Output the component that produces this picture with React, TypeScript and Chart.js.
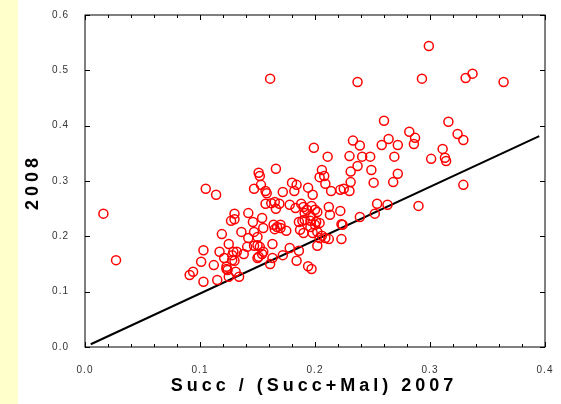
import React, { useEffect, useRef } from 'react';
import { Chart, registerables } from 'chart.js';

Chart.register(...registerables);

// Succ / (Succ+Mal) in 2007 (x) and 2008 (y)
const succ2007 = [
  0.016, 0.027, 0.161, 0.199, 0.166, 0.151, 0.152, 0.105, 0.114, 0.299,
  0.237, 0.293, 0.331, 0.337, 0.364, 0.260, 0.316, 0.282, 0.287, 0.324,
  0.329, 0.233, 0.264, 0.239, 0.258, 0.272, 0.286, 0.311, 0.211, 0.230,
  0.241, 0.248, 0.269, 0.301, 0.313, 0.314, 0.237, 0.206, 0.249, 0.231,
  0.272, 0.208, 0.204, 0.231, 0.251, 0.268, 0.329, 0.147, 0.153, 0.157,
  0.158, 0.172, 0.180, 0.184, 0.182, 0.194, 0.198, 0.209, 0.214, 0.222,
  0.225, 0.230, 0.157, 0.162, 0.165, 0.169, 0.166, 0.178, 0.183, 0.188,
  0.190, 0.193, 0.197, 0.200, 0.202, 0.212, 0.222, 0.254, 0.263, 0.290,
  0.142, 0.130, 0.130, 0.127, 0.146, 0.154, 0.155, 0.147, 0.136, 0.119,
  0.142, 0.125, 0.164, 0.167, 0.170, 0.170, 0.175, 0.187, 0.190, 0.186,
  0.189, 0.191, 0.196, 0.198, 0.202, 0.202, 0.150, 0.152, 0.151, 0.154,
  0.150, 0.155, 0.141, 0.138, 0.147, 0.163, 0.163, 0.161, 0.172, 0.178,
  0.184, 0.186, 0.194, 0.197, 0.132, 0.129, 0.128, 0.128, 0.130, 0.123,
  0.123, 0.124, 0.131, 0.134, 0.125, 0.115, 0.103, 0.101, 0.103, 0.117,
  0.112, 0.121, 0.094, 0.091, 0.239, 0.223, 0.212, 0.209, 0.223, 0.252,
  0.213, 0.204, 0.206, 0.201, 0.150, 0.165, 0.196, 0.200, 0.196, 0.204,
  0.191, 0.224,
];

const succ2008 = [
  0.241, 0.157, 0.485, 0.360, 0.322, 0.315, 0.309, 0.286, 0.275, 0.544,
  0.479, 0.485, 0.486, 0.494, 0.479, 0.409, 0.407, 0.389, 0.378, 0.385,
  0.374, 0.373, 0.376, 0.364, 0.365, 0.365, 0.367, 0.358, 0.344, 0.345,
  0.344, 0.344, 0.344, 0.340, 0.342, 0.336, 0.327, 0.320, 0.320, 0.317,
  0.313, 0.309, 0.307, 0.298, 0.297, 0.298, 0.293, 0.286, 0.293, 0.282,
  0.278, 0.280, 0.297, 0.293, 0.282, 0.288, 0.275, 0.295, 0.282, 0.284,
  0.286, 0.282, 0.259, 0.260, 0.262, 0.259, 0.250, 0.257, 0.251, 0.259,
  0.253, 0.248, 0.255, 0.248, 0.244, 0.253, 0.246, 0.259, 0.257, 0.255,
  0.242, 0.241, 0.231, 0.228, 0.226, 0.233, 0.215, 0.208, 0.208, 0.204,
  0.197, 0.186, 0.221, 0.217, 0.221, 0.215, 0.210, 0.212, 0.206, 0.226,
  0.228, 0.230, 0.228, 0.206, 0.208, 0.183, 0.184, 0.181, 0.163, 0.168,
  0.161, 0.172, 0.181, 0.168, 0.183, 0.186, 0.161, 0.150, 0.166, 0.179,
  0.156, 0.174, 0.146, 0.141, 0.172, 0.172, 0.166, 0.157, 0.156, 0.145,
  0.141, 0.139, 0.136, 0.127, 0.127, 0.121, 0.118, 0.154, 0.175, 0.172,
  0.148, 0.161, 0.136, 0.130, 0.235, 0.222, 0.195, 0.197, 0.195, 0.241,
  0.239, 0.224, 0.201, 0.226, 0.199, 0.213, 0.237, 0.221, 0.217, 0.197,
  0.242, 0.221,
];

// fitted line end points
const fitX = [0.005, 0.395];
const fitY = [0.005, 0.381];

const xTickLabels = ['0.0', '0.1', '0.2', '0.3', '0.4'];
const yTickLabels = ['0.0', '0.1', '0.2', '0.3', '0.4', '0.5', '0.6'];
const xTitle = 'Succ / (Succ+Mal) 2007';
const yTitle = '2008';

const FONT = '"Liberation Sans", Arial, Helvetica, sans-serif';

const framePlugin = {
  id: 'frameTicksTitles',
  beforeDraw(chart: any) {
    chart.ctx.letterSpacing = '1px';
  },
  afterDraw(chart: any) {
    const { ctx, chartArea: a } = chart;
    const xs = chart.scales.x;
    const ys = chart.scales.y;
    ctx.save();
    ctx.letterSpacing = '0px';
    ctx.strokeStyle = '#000';
    ctx.lineWidth = 1;
    ctx.strokeRect(a.left, a.top, a.right - a.left, a.bottom - a.top);
    const seg = (x1: number, y1: number, x2: number, y2: number) => {
      ctx.beginPath();
      ctx.moveTo(x1, y1);
      ctx.lineTo(x2, y2);
      ctx.stroke();
    };
    xs.ticks.forEach((t: any, i: number) => {
      const px = Math.round(xs.getPixelForValue(t.value)) + 0.5;
      const len = i % 5 === 0 ? 5 : 3;
      seg(px, a.bottom, px, a.bottom - len);
      seg(px, a.top, px, a.top + len);
    });
    ys.ticks.forEach((t: any) => {
      const py = Math.round(ys.getPixelForValue(t.value)) + 0.5;
      seg(a.left, py, a.left + 5, py);
      seg(a.right, py, a.right - 5, py);
    });
    ctx.fillStyle = '#000';
    ctx.font = `bold 18px ${FONT}`;
    ctx.letterSpacing = '4px';
    ctx.textAlign = 'center';
    ctx.textBaseline = 'middle';
    ctx.fillText(xTitle, (a.left + a.right) / 2 - 1, 386);
    ctx.translate(33, (a.top + a.bottom) / 2 + 1);
    ctx.rotate(-Math.PI / 2);
    ctx.fillText(yTitle, 0, 0);
    ctx.restore();
  },
};

export default function App() {
  const ref = useRef<HTMLCanvasElement | null>(null);

  useEffect(() => {
    if (!ref.current) return;
    const points = succ2007.map((x, i) => ({ x, y: succ2008[i] }));
    const fit = fitX.map((x, i) => ({ x, y: fitY[i] }));
    const chart = new Chart(ref.current, {
      type: 'scatter',
      data: {
        datasets: [
          {
            data: points,
            pointStyle: 'circle',
            pointRadius: 4.5,
            pointBorderWidth: 1.5,
            pointBorderColor: '#ff0000',
            pointBackgroundColor: 'rgba(0,0,0,0)',
            borderColor: '#ff0000',
            backgroundColor: 'rgba(0,0,0,0)',
          },
          {
            data: fit,
            showLine: true,
            pointRadius: 0,
            borderColor: '#000',
            borderWidth: 2,
          },
        ],
      },
      options: {
        animation: false,
        responsive: false,
        events: [],
        layout: { padding: { top: 15, right: 16, left: 0, bottom: 0 } },
        plugins: { legend: { display: false }, tooltip: { enabled: false } },
        scales: {
          x: {
            type: 'linear',
            min: 0,
            max: 0.4,
            grid: { display: false },
            border: { display: false },
            ticks: {
              stepSize: 0.02,
              autoSkip: false,
              maxRotation: 0,
              padding: 9,
              color: '#333',
              font: { family: FONT, size: 10 },
              callback: (_v: any, i: number) => (i % 5 === 0 ? xTickLabels[i / 5] : ''),
            },
            afterFit: (s: any) => {
              s.height = 57;
            },
          },
          y: {
            type: 'linear',
            min: 0,
            max: 0.6,
            grid: { display: false },
            border: { display: false },
            ticks: {
              stepSize: 0.1,
              padding: 8,
              color: '#333',
              font: { family: FONT, size: 10 },
              callback: (_v: any, i: number) => yTickLabels[i],
            },
            afterFit: (s: any) => {
              s.width = 85;
            },
          },
        },
      },
      plugins: [framePlugin],
    });
    return () => chart.destroy();
  }, []);

  return (
    <div style={{ position: 'fixed', left: 0, top: 0, width: 561, height: 404, background: '#fff' }}>
      <div style={{ position: 'absolute', left: 0, top: 0, width: 18, height: 404, background: '#ffffcc' }} />
      <canvas ref={ref} width={561} height={404} style={{ position: 'absolute', left: 0, top: 0 }} />
    </div>
  );
}
